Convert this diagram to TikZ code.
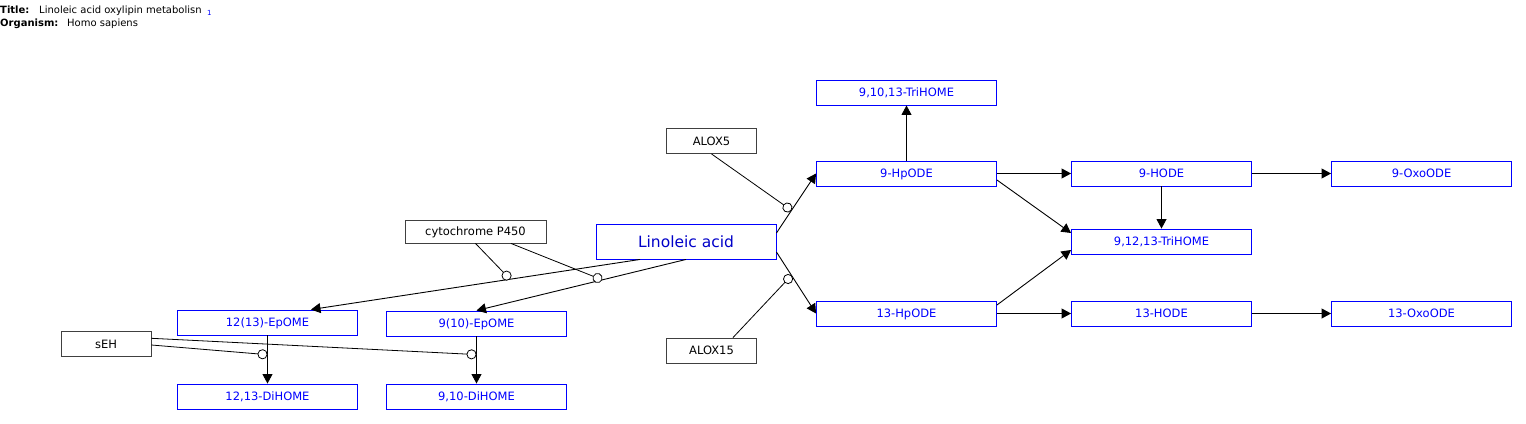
\documentclass[tikz,border=0pt]{standalone}
\usepackage{fontspec}
\setmainfont{DejaVu Sans}
\usetikzlibrary{arrows.meta}
\definecolor{metablue}{RGB}{0,0,255}
\definecolor{mainblue}{RGB}{0,0,200}

\tikzset{
  metabolite/.style={draw=metablue, text=metablue, line width=0.9pt, minimum width=180pt, minimum height=25pt, inner sep=0pt, text height=8.4pt, text depth=0pt, font=\fontsize{11.5}{13}\selectfont},
  geneprod/.style={draw=black!75, text=black, line width=0.9pt, minimum width=90pt, minimum height=25pt, inner sep=0pt, text height=8.4pt, text depth=0pt, font=\fontsize{11.5}{13}\selectfont},
  conv/.style={line width=0.9pt, -{Triangle[length=9.5pt,width=10pt]}},
  catal/.style={line width=0.8pt, -{Circle[length=10pt,fill=white]}},
  infotext/.style={anchor=base west, inner sep=0pt, font=\fontsize{10}{12}\selectfont}
}

\begin{document}
\begin{tikzpicture}[x=1pt,y=-1pt]
      \useasboundingbox (0,0) rectangle (1526,423);

      % Draw the title block
      \node[infotext] (titlekey) at (0,13) {\textbf{Title:}};
      \node[infotext] (titleval) at (39,13) {Linoleic acid oxylipin metabolisn};
      \node[infotext, text=metablue, font=\fontsize{7}{8}\selectfont] (titleref) at (207,15) {1};
      \node[infotext] (orgkey) at (0,27) {\textbf{Organism:}};
      \node[infotext] (orgval) at (67,27) {Homo sapiens};

      % Draw the metabolites
      \node[metabolite, minimum height=35pt, text height=11.3pt, text=mainblue, font=\fontsize{15.5}{18}\selectfont] (lin) at (686,241.5) {Linoleic acid};
      \node[metabolite] (trihome91013) at (906.5,92.5) {9,10,13-TriHOME};
      \node[metabolite] (hpode9) at (906.5,173.5) {9-HpODE};
      \node[metabolite] (hode9) at (1161.5,173.5) {9-HODE};
      \node[metabolite] (oxo9) at (1421.5,173.5) {9-OxoODE};
      \node[metabolite] (trihome91213) at (1161.5,241.5) {9,12,13-TriHOME};
      \node[metabolite] (hpode13) at (906.5,313.5) {13-HpODE};
      \node[metabolite] (hode13) at (1161.5,313.5) {13-HODE};
      \node[metabolite] (oxo13) at (1421.5,313.5) {13-OxoODE};
      \node[metabolite] (ep1213) at (267.5,322.5) {12(13)-EpOME};
      \node[metabolite] (ep910) at (476.5,323.5) {9(10)-EpOME};
      \node[metabolite] (dihome1213) at (267.5,396.5) {12,13-DiHOME};
      \node[metabolite] (dihome910) at (476.5,396.5) {9,10-DiHOME};

      % Draw the enzymes
      \node[geneprod] (alox5) at (711.5,141) {ALOX5};
      \node[geneprod] (alox15) at (711.5,350.5) {ALOX15};
      \node[geneprod, minimum width=141pt, minimum height=23pt] (cyp) at (475.5,231.5) {cytochrome P450};
      \node[geneprod] (seh) at (106,344) {sEH};

      % Draw the conversions
      \draw[conv] ([xshift=-46pt]lin.south) -- coordinate[pos=0.395] (cyp1) ([xshift=43.5pt]ep1213.north);
      \draw[conv] (lin.south) -- coordinate[pos=0.40] (cyp2) (ep910.north);
      \draw[conv] ([yshift=8.5pt]lin.east) -- coordinate[pos=0.38] (lox5) (hpode9.west);
      \draw[conv] ([yshift=-10.5pt]lin.east) -- coordinate[pos=0.38] (lox15) (hpode13.west);
      \draw[conv] (hpode9.north) -- (trihome91013.south);
      \draw[conv] (hpode9.east) -- (hode9.west);
      \draw[conv] ([yshift=-6.5pt]hpode9.east) -- ([yshift=8.5pt]trihome91213.west);
      \draw[conv] (hode9.south) -- (trihome91213.north);
      \draw[conv] (hode9.east) -- (oxo9.west);
      \draw[conv] ([yshift=8.5pt]hpode13.east) -- ([yshift=-8.5pt]trihome91213.west);
      \draw[conv] (hpode13.east) -- (hode13.west);
      \draw[conv] (hode13.east) -- (oxo13.west);
      \draw[conv] (ep1213.south) -- coordinate[pos=0.40] (seh1) (dihome1213.north);
      \draw[conv] (ep910.south) -- coordinate[pos=0.385] (seh2) (dihome910.north);

      % Draw the catalysis links
      \draw[catal] (cyp.south) -- (cyp1);
      \draw[catal] ([xshift=35.5pt]cyp.south) -- (cyp2);
      \draw[catal] (alox5.south) -- (lox5);
      \draw[catal] ([xshift=21.5pt]alox15.north) -- (lox15);
      \draw[catal] ([yshift=-1pt]seh.east) -- (seh1);
      \draw[catal] ([yshift=5.7pt]seh.east) -- (seh2);
  \end{tikzpicture}
\end{document}
